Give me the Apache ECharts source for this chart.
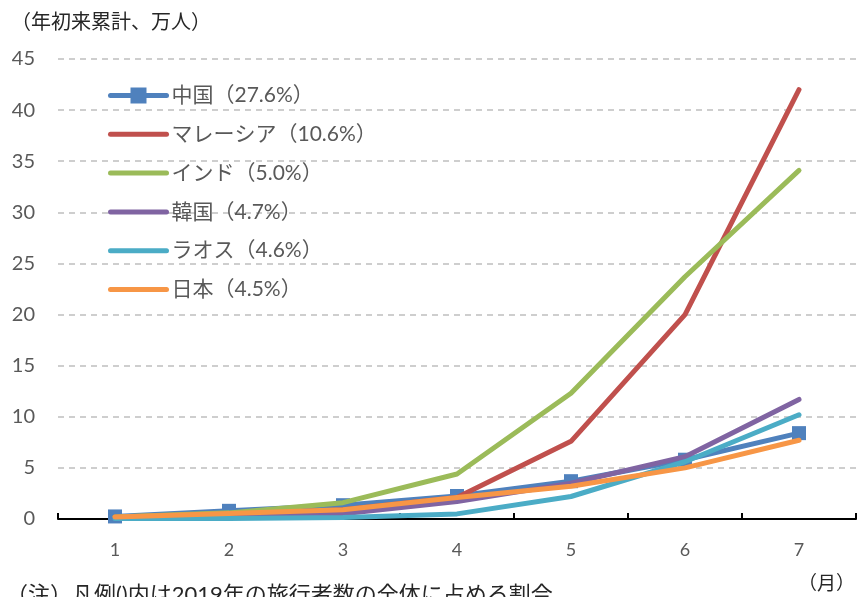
<!DOCTYPE html>
<html>
<head>
<meta charset="utf-8">
<script src="https://cdn.jsdelivr.net/npm/echarts@6/dist/echarts.min.js"></script>
<style>
  html, body { margin: 0; padding: 0; background: #fff; }
  #chart { width: 858px; height: 597px; }
</style>
</head>
<body>
<div id="chart"></div>
<script>
// Months (x-axis categories)
const months = ['1', '2', '3', '4', '5', '6', '7'];

// Cumulative visitors since January, in 10,000 persons
const china    = [0.25, 0.8, 1.35, 2.25, 3.7, 5.8, 8.4];
const malaysia = [0.2, 0.4, 0.9, 2.1, 7.6, 20.0, 42.0];
const india    = [0.2, 0.6, 1.6, 4.4, 12.3, 23.7, 34.1];
const korea    = [0.1, 0.3, 0.5, 1.7, 3.5, 6.1, 11.7];
const laos     = [0.05, 0.05, 0.15, 0.5, 2.2, 5.6, 10.2];
const japan    = [0.2, 0.55, 0.9, 2.1, 3.2, 5.0, 7.7];

// Legend names
const names = ['中国（27.6%）', 'マレーシア（10.6%）', 'インド（5.0%）', '韓国（4.7%）', 'ラオス（4.6%）', '日本（4.5%）'];
const colors = ['#4F81BD', '#C0504D', '#9BBB59', '#8064A2', '#4BACC6', '#F79646'];
const values = [china, malaysia, india, korea, laos, japan];

const FONT = 'Lato, "Noto Sans CJK JP", sans-serif';
const TEXT = '#595959';

const series = values.map((v, i) => ({
  name: names[i],
  type: 'line',
  data: v,
  symbol: i === 0 ? 'rect' : 'none',
  symbolSize: 14,
  showSymbol: i === 0,
  lineStyle: { width: 5, color: colors[i], cap: 'round', join: 'round' },
  itemStyle: { color: colors[i] },
  emphasis: { disabled: true },
  z: 2 + i,
  animation: false
}));

// Only the first entry carries a marker in the legend; the rest are plain lines
const legendData = names.map((n, i) => (
  i === 0 ? { name: n } : { name: n, itemStyle: { opacity: 0 } }
));

const chart = echarts.init(document.getElementById('chart'), null, { renderer: 'canvas' });
chart.setOption({
  backgroundColor: '#fff',
  animation: false,
  textStyle: { fontFamily: FONT },
  grid: { left: 58, right: 2, top: 59, bottom: 78, containLabel: false },
  legend: {
    orient: 'vertical',
    left: 103,
    top: 80,
    itemWidth: 56,
    itemHeight: 20,
    itemGap: 17.8,
    data: legendData,
    lineStyle: { width: 5, cap: 'round' },
    textStyle: { fontFamily: FONT, fontSize: 21, color: TEXT, lineHeight: 20 },
    selectedMode: false
  },
  xAxis: {
    type: 'category',
    data: months,
    boundaryGap: true,
    axisLine: { lineStyle: { color: '#000', width: 2 } },
    axisTick: { show: true, inside: true, length: 6, lineStyle: { color: '#000', width: 2 } },
    axisLabel: { color: TEXT, fontSize: 18, fontFamily: FONT, margin: 22 },
    splitLine: { show: false }
  },
  yAxis: {
    type: 'value',
    min: 0,
    max: 45,
    interval: 5,
    axisLine: { show: false },
    axisTick: { show: false },
    axisLabel: { color: TEXT, fontSize: 20, fontFamily: FONT, margin: 23 },
    splitLine: { lineStyle: { color: '#BFBFBF', type: [6, 5], width: 1.5 } }
  },
  graphic: [
    {
      type: 'text', left: 11, top: 13,
      style: { text: '（年初来累計、万人）', fontSize: 20, fontFamily: FONT, fill: '#262626' }
    },
    {
      type: 'text', left: 798, top: 574,
      style: { text: '（月）', fontSize: 19, fontFamily: FONT, fill: '#262626' }
    },
    {
      type: 'text', left: 6, top: 584,
      style: { text: '（注）凡例()内は2019年の旅行者数の全体に占める割合', fontSize: 22, fontFamily: FONT, fill: '#262626' }
    }
  ],
  series: series
});
</script>
</body>
</html>
